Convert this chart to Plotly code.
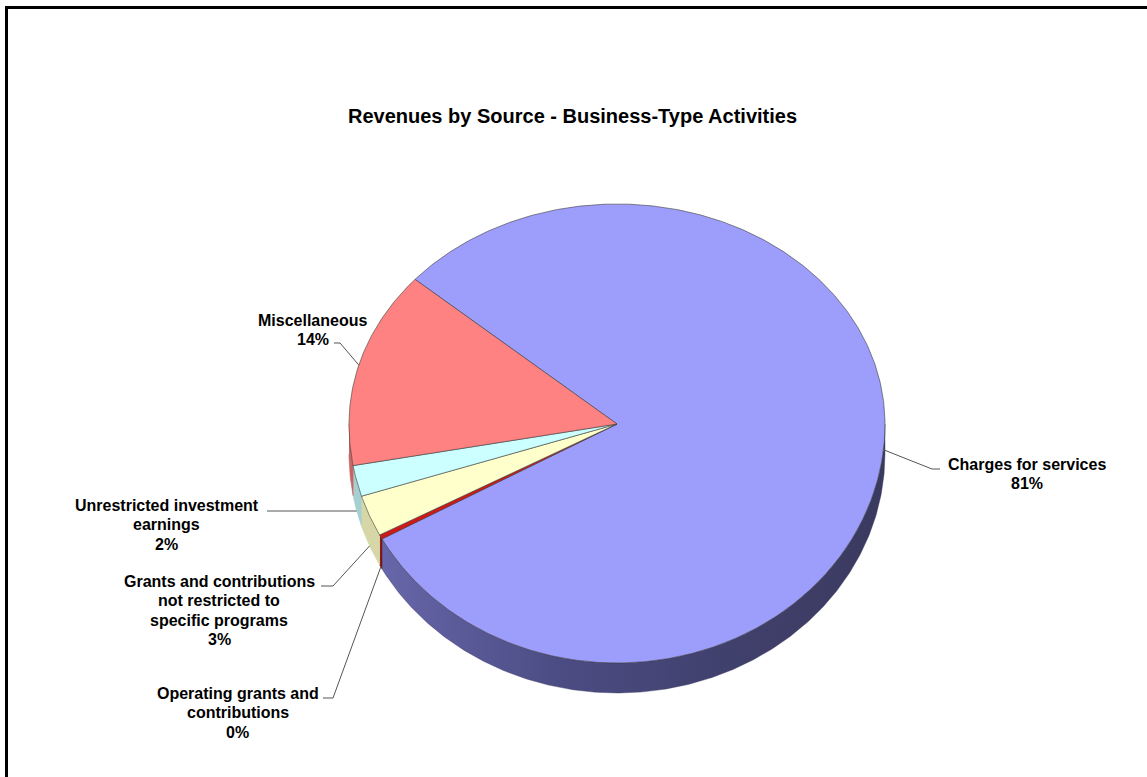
import numpy as np
import plotly.graph_objects as go

# ---- data -------------------------------------------------------------
categories = [
    "Charges for services",
    "Operating grants and contributions",
    "Grants and contributions not restricted to specific programs",
    "Unrestricted investment earnings",
    "Miscellaneous",
]
# category names as they wrap in the slice labels
label_lines = [
    ["Charges for services"],
    ["Operating grants and", "contributions"],
    ["Grants and contributions", "not restricted to", "specific programs"],
    ["Unrestricted investment", "earnings"],
    ["Miscellaneous"],
]
shares = [80.6, 0.3, 2.8, 2.1, 14.2]   # percent of business-type revenues

top_colors = ["#9D9DFC", "#D01818", "#FFFFCC", "#CCFFFF", "#FF8282"]
side_colors = ["#4A4A80", "#8A0C0C", "#D6D6A6", "#A6CFCF", "#C86464"]

# ---- 3-D pie geometry (page pixels) -----------------------------------
W, H = 1147, 777
CX, CY = 617, 424          # apex of the pie
RX = 268                   # horizontal radius
RY_BACK, RY_FRONT = 220, 239
DEPTH = 30                 # thickness of the rim
START = 138.9              # first slice starts here, running clockwise


def rim_xy(theta_deg, drop=0.0):
    t = np.radians(theta_deg)
    s = np.sin(t)
    ry = np.where(s > 0, RY_BACK, RY_FRONT)
    return CX + RX * np.cos(t), CY - ry * s + drop


total = float(sum(shares))
bounds = [START]
for v in shares:
    bounds.append(bounds[-1] - 360.0 * v / total)

fig = go.Figure()

# visible front rim of every slice (angles between -180 and 0)
for i, cat in enumerate(categories):
    hi, lo = bounds[i], bounds[i + 1]
    lo_v, hi_v = max(lo, -180.0), min(hi, 0.0)
    if hi_v <= lo_v:
        continue
    th = np.linspace(lo_v, hi_v, max(6, int((hi_v - lo_v) * 2)))
    xt, yt = rim_xy(th)
    xb, yb = rim_xy(th[::-1], DEPTH)
    trace = dict(
        x=np.concatenate([xt, xb]), y=np.concatenate([yt, yb]),
        fill="toself", mode="lines", hoverinfo="skip", showlegend=False)
    if i == 0:
        # shaded rim: lighter on the left, darker to the right
        trace.update(fillgradient=dict(type="horizontal", colorscale=[
            [0.0, "#6666AA"], [0.35, "#4C4C84"], [0.7, "#40406C"], [1.0, "#3A3A60"]]),
            line=dict(color="#3A3A60", width=0.4))
    else:
        trace.update(fillcolor=side_colors[i],
                     line=dict(color="#5a3030" if i == 1 else side_colors[i], width=0.6))
    fig.add_trace(go.Scatter(**trace))

# top faces
for i, cat in enumerate(categories):
    hi, lo = bounds[i], bounds[i + 1]
    n = max(4, int((hi - lo) * 2))
    th = np.linspace(hi, lo, n)
    xa, ya = rim_xy(th)
    fig.add_trace(go.Scatter(
        x=np.concatenate([[CX], xa, [CX]]), y=np.concatenate([[CY], ya, [CY]]),
        fill="toself", fillcolor=top_colors[i], mode="lines",
        line=dict(color="#3C3C3C", width=0.6),
        name=cat, text=f"{shares[i]:.1f}%", hoverinfo="name+text", showlegend=False))

# ---- labels -----------------------------------------------------------
LINE_GAP = 19.5
FONT = dict(family="Liberation Sans, Arial, sans-serif", size=16, color="#000000", weight="bold")
# centre x of the text block, y of its first line, leader elbow and the text-side end
label_layout = [
    dict(x=1026.5, y=464, elbow=(932, 469), tail=(940, 469), drop=0),
    dict(x=237.5, y=693, elbow=(333, 698), tail=(323, 698), drop=DEPTH),
    dict(x=219, y=581, elbow=(333, 586), tail=(321, 586), drop=DEPTH),
    dict(x=166.5, y=505, elbow=(276, 511), tail=(267, 511), drop=DEPTH),
    dict(x=312.5, y=320, elbow=(340, 343), tail=(334, 343), drop=0),
]

for i, cat in enumerate(categories):
    L = label_layout[i]
    lines = label_lines[i] + [f"{round(shares[i]):.0f}%"]
    for j, txt in enumerate(lines):
        fig.add_annotation(x=L["x"], y=L["y"] + j * LINE_GAP, text=txt,
                           xref="x", yref="y", showarrow=False,
                           xanchor="center", yanchor="middle", font=FONT)
    mid = (bounds[i] + bounds[i + 1]) / 2
    ax, ay = rim_xy(mid, L["drop"])
    fig.add_trace(go.Scatter(
        x=[L["tail"][0], L["elbow"][0], float(ax)],
        y=[L["tail"][1], L["elbow"][1], float(ay)],
        mode="lines", line=dict(color="#555555", width=1),
        hoverinfo="skip", showlegend=False))

fig.add_annotation(x=572, y=116, xref="x", yref="y", showarrow=False,
                   text="Revenues by Source - Business-Type Activities",
                   xanchor="center", yanchor="middle",
                   font=dict(family="Liberation Sans, Arial, sans-serif", size=20,
                             color="#000000", weight="bold"))

# chart frame
fig.add_shape(type="rect", xref="x", yref="y", x0=6.5, y0=7.5, x1=W + 20, y1=H + 20,
              line=dict(color="#000000", width=3), fillcolor="rgba(0,0,0,0)")

fig.update_xaxes(range=[0, W], visible=False, fixedrange=True)
fig.update_yaxes(range=[H, 0], visible=False, fixedrange=True)
fig.update_layout(width=W, height=H, margin=dict(l=0, r=0, t=0, b=0),
                  paper_bgcolor="#FFFFFF", plot_bgcolor="#FFFFFF", showlegend=False)

fig.write_html("out.html")
